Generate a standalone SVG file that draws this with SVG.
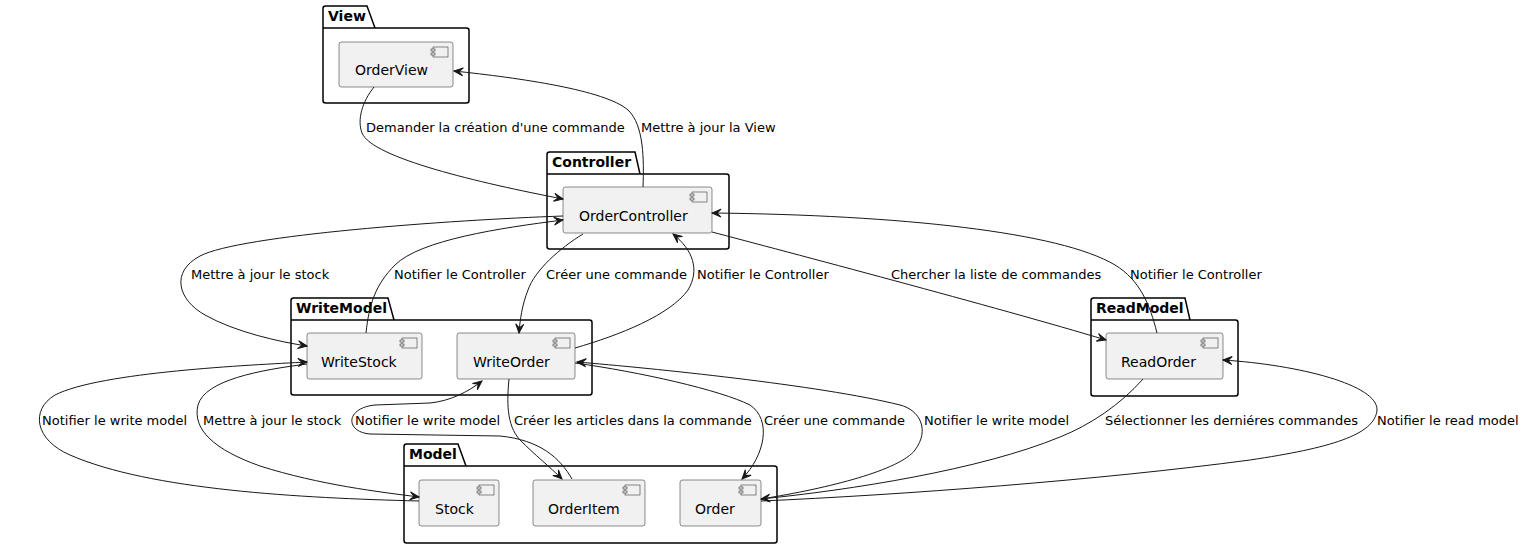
<svg xmlns="http://www.w3.org/2000/svg" width="1526" height="548" viewBox="0 0 1526 548">
<style>
.pkg{fill:none;stroke:#000;stroke-width:1.5}
.pl{font-family:"DejaVu Sans",Verdana,sans-serif;font-size:14px;font-weight:bold;fill:#000}
.cmp{fill:#F1F1F1;stroke:#181818;stroke-width:0.5}
.ic{fill:#F1F1F1;stroke:#181818;stroke-width:0.5}
.ct{font-family:"DejaVu Sans",Verdana,sans-serif;font-size:14px;fill:#000}
.e{fill:none;stroke:#181818;stroke-width:1;marker-end:url(#ah)}
.el{font-family:"DejaVu Sans",Verdana,sans-serif;font-size:13px;fill:#000}
</style>
<defs>
<marker id="ah" viewBox="-10 -5 11 10" refX="0" refY="0" markerWidth="11" markerHeight="10" markerUnits="userSpaceOnUse" orient="auto">
<path d="M0,0 L-9,-4 L-5,0 L-9,4 Z" fill="#181818" stroke="#181818" stroke-width="1"/>
</marker>
</defs>
<rect width="1526" height="548" fill="#fff"/>

<g id="pkg-View">
<path class="pkg" d="M323,8.5 Q323,6 325.5,6 L367,6 L375,28 L466.5,28 Q469,28 469,30.5 L469,100.5 Q469,103 466.5,103 L325.5,103 Q323,103 323,100.5 Z M323,28 L375,28"/>
<text class="pl" x="328" y="21">View</text>
</g>
<g id="pkg-Controller">
<path class="pkg" d="M547,154.5 Q547,152 549.5,152 L635,152 L640,174 L726.5,174 Q729,174 729,176.5 L729,246.5 Q729,249 726.5,249 L549.5,249 Q547,249 547,246.5 Z M547,174 L640,174"/>
<text class="pl" x="552" y="167">Controller</text>
</g>
<g id="pkg-WriteModel">
<path class="pkg" d="M291,300.5 Q291,298 293.5,298 L388,298 L394,320 L589.5,320 Q592,320 592,322.5 L592,392.5 Q592,395 589.5,395 L293.5,395 Q291,395 291,392.5 Z M291,320 L394,320"/>
<text class="pl" x="296" y="313">WriteModel</text>
</g>
<g id="pkg-ReadModel">
<path class="pkg" d="M1091,300.5 Q1091,298 1093.5,298 L1185,298 L1190,320 L1235.5,320 Q1238,320 1238,322.5 L1238,393.5 Q1238,396 1235.5,396 L1093.5,396 Q1091,396 1091,393.5 Z M1091,320 L1190,320"/>
<text class="pl" x="1096" y="313">ReadModel</text>
</g>
<g id="pkg-Model">
<path class="pkg" d="M404,446.5 Q404,444 406.5,444 L458,444 L466,466 L774.5,466 Q777,466 777,468.5 L777,540.5 Q777,543 774.5,543 L406.5,543 Q404,543 404,540.5 Z M404,466 L466,466"/>
<text class="pl" x="409" y="459">Model</text>
</g>

<g id="OrderView">
<rect class="cmp" x="339" y="42" width="114" height="45" rx="2.5"/>
<rect class="ic" x="433" y="47" width="15" height="10"/><rect class="ic" x="431" y="49" width="4" height="2"/><rect class="ic" x="431" y="53" width="4" height="2"/>
<text class="ct" x="355" y="75">OrderView</text>
</g>
<g id="OrderController">
<rect class="cmp" x="563" y="187" width="149" height="46" rx="2.5"/>
<rect class="ic" x="692" y="192" width="15" height="10"/><rect class="ic" x="690" y="194" width="4" height="2"/><rect class="ic" x="690" y="198" width="4" height="2"/>
<text class="ct" x="579" y="221">OrderController</text>
</g>
<g id="WriteStock">
<rect class="cmp" x="307" y="333" width="115" height="46" rx="2.5"/>
<rect class="ic" x="402" y="338" width="15" height="10"/><rect class="ic" x="400" y="340" width="4" height="2"/><rect class="ic" x="400" y="344" width="4" height="2"/>
<text class="ct" x="321" y="367">WriteStock</text>
</g>
<g id="WriteOrder">
<rect class="cmp" x="457" y="333" width="118" height="46" rx="2.5"/>
<rect class="ic" x="555" y="338" width="15" height="10"/><rect class="ic" x="553" y="340" width="4" height="2"/><rect class="ic" x="553" y="344" width="4" height="2"/>
<text class="ct" x="473" y="367">WriteOrder</text>
</g>
<g id="ReadOrder">
<rect class="cmp" x="1106" y="333" width="117" height="46" rx="2.5"/>
<rect class="ic" x="1203" y="338" width="15" height="10"/><rect class="ic" x="1201" y="340" width="4" height="2"/><rect class="ic" x="1201" y="344" width="4" height="2"/>
<text class="ct" x="1121" y="367">ReadOrder</text>
</g>
<g id="Stock">
<rect class="cmp" x="419" y="480" width="80" height="46" rx="2.5"/>
<rect class="ic" x="479" y="485" width="15" height="10"/><rect class="ic" x="477" y="487" width="4" height="2"/><rect class="ic" x="477" y="491" width="4" height="2"/>
<text class="ct" x="435" y="514">Stock</text>
</g>
<g id="OrderItem">
<rect class="cmp" x="533" y="480" width="112" height="46" rx="2.5"/>
<rect class="ic" x="625" y="485" width="15" height="10"/><rect class="ic" x="623" y="487" width="4" height="2"/><rect class="ic" x="623" y="491" width="4" height="2"/>
<text class="ct" x="548" y="514">OrderItem</text>
</g>
<g id="Order">
<rect class="cmp" x="680" y="480" width="81" height="46" rx="2.5"/>
<rect class="ic" x="741" y="485" width="15" height="10"/><rect class="ic" x="739" y="487" width="4" height="2"/><rect class="ic" x="739" y="491" width="4" height="2"/>
<text class="ct" x="695" y="514">Order</text>
</g>

<g id="connectors">
<path class="e" d="M374,87 C362,102 357,120 362,133 C372,158 480,183 563,199"/>
<text class="el" x="366" y="132">Demander la création d'une commande</text>
<path class="e" d="M643,187 C644,160 644,125 628,110 C605,90 520,78 454,71"/>
<text class="el" x="641" y="132">Mettre à jour la View</text>
<path class="e" d="M563,216 C450,220 240,235 200,256 C170,272 178,300 205,315 C235,332 280,342 307,346"/>
<text class="el" x="191" y="279">Mettre à jour le stock</text>
<path class="e" d="M366,333 C369,305 375,285 395,265 C420,240 500,228 563,220"/>
<text class="el" x="394" y="279">Notifier le Controller</text>
<path class="e" d="M583,234 C560,248 535,270 528,290 C522,305 520,320 519,333"/>
<text class="el" x="546" y="279">Créer une commande</text>
<path class="e" d="M575,348 C620,335 670,315 688,290 C700,270 693,250 673,234"/>
<text class="el" x="697" y="279">Notifier le Controller</text>
<path class="e" d="M712,232 C780,250 1000,308 1106,340"/>
<text class="el" x="891" y="279">Chercher la liste de commandes</text>
<path class="e" d="M1157,333 C1150,305 1140,280 1115,265 C1060,232 900,215 712,213"/>
<text class="el" x="1130" y="279">Notifier le Controller</text>
<path class="e" d="M419,501 C300,498 150,490 70,455 C35,440 30,410 55,395 C100,372 250,365 307,362"/>
<text class="el" x="42" y="425">Notifier le write model</text>
<path class="e" d="M307,364 C260,370 205,380 198,405 C192,430 215,450 260,466 C320,485 380,492 419,497"/>
<text class="el" x="203" y="425">Mettre à jour le stock</text>
<path class="e" d="M572,479 C560,458 540,440 500,436 L370,434 C345,432 345,408 375,405 L430,403 C450,401 468,392 482,381"/>
<text class="el" x="355" y="425">Notifier le write model</text>
<path class="e" d="M509,379 C507,400 506,425 520,440 C535,455 550,467 562,479"/>
<text class="el" x="514" y="425">Créer les articles dans la commande</text>
<path class="e" d="M575,363 C640,372 720,390 750,405 C772,420 765,455 742,479"/>
<text class="el" x="764" y="425">Créer une commande</text>
<path class="e" d="M761,499 C830,488 900,470 915,450 C930,430 920,410 900,405 C820,385 650,368 577,362"/>
<text class="el" x="924" y="425">Notifier le write model</text>
<path class="e" d="M1143,379 C1120,405 1090,425 1060,437 C980,470 850,490 761,499"/>
<text class="el" x="1105" y="425">Sélectionner les derniéres commandes</text>
<path class="e" d="M761,501 C900,495 1100,480 1250,460 C1330,448 1375,435 1377,410 C1378,385 1300,365 1223,360"/>
<text class="el" x="1377" y="425">Notifier le read model</text>
</g>
</svg>
